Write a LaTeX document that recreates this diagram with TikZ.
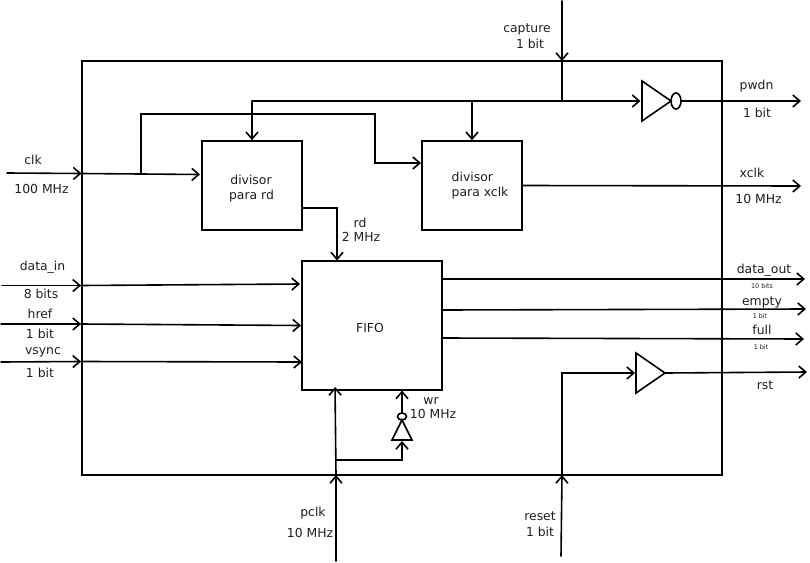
\documentclass[tikz,border=0pt]{standalone}
\usepackage{fontspec}
\setmainfont{DejaVu Sans}
\usetikzlibrary{arrows.meta,shapes.geometric}
\tikzset{
  wire/.style={line width=1.6pt,line cap=round,line join=miter,black},
  arr/.style={wire,-{Straight Barb[length=7pt,width=12pt,line width=1.6pt]}},
  block/.style={draw,line width=1.6pt,inner sep=0pt,black},
  lab/.style={inner sep=0pt,font=\fontsize{12.4}{14}\selectfont,text=black!88},
  tiny lab/.style={inner sep=0pt,font=\fontsize{6.4}{7}\selectfont,text=black!88},
  bubble/.style={draw,ellipse,line width=1.6pt,inner sep=0pt,black}
}
\begin{document}
\begin{tikzpicture}[x=1pt,y=-1pt]
\useasboundingbox (0,0) rectangle (810,562);
% blocks
\node[block,minimum width=640pt,minimum height=414pt] (main) at (402,268) {};
\node[block,minimum width=100pt,minimum height=89pt] (divrd) at (252,185.5) {};
\node[block,minimum width=100pt,minimum height=89pt] (divx) at (472,185.5) {};
\node[block,minimum width=140pt,minimum height=129pt] (fifo) at (372,325.5) {};
% buffers
\coordinate (invA) at (642,81);
\coordinate (invB) at (642,121);
\coordinate (invC) at (671,101);
\draw[wire] (invA) -- (invC) -- (invB) -- cycle;
\node[bubble,minimum width=10pt,minimum height=16pt] (invO) at (676,101) {};
\coordinate (bufA) at (636,353);
\coordinate (bufB) at (636,393);
\coordinate (bufC) at (665,373);
\draw[wire] (bufA) -- (bufC) -- (bufB) -- cycle;
\coordinate (wrA) at (392,440);
\coordinate (wrB) at (412,440);
\coordinate (wrC) at (402,420);
\draw[wire] (wrA) -- (wrC) -- (wrB) -- cycle;
\node[bubble,minimum width=9pt,minimum height=7pt] (wrO) at (402,416.5) {};
% free ends and junctions
\coordinate (capT) at (562,1);
\coordinate (capM) at (562,61);
\coordinate (capJ) at (562,101);
\coordinate (busL) at (252,101);
\coordinate (busX) at (472,101);
\coordinate (busR) at (640.5,101);
\coordinate (pwdnE) at (801,101);
\coordinate (clkS) at (7,173);
\coordinate (clkM) at (81.5,173.5);
\coordinate (clkE) at (200,174.5);
\coordinate (clkJ) at (141,174);
\coordinate (clkU) at (141,114);
\coordinate (clkR) at (375,114);
\coordinate (clkD) at (375,163);
\coordinate (xclkIn) at (421,163);
\coordinate (xclkE) at (801,186);
\coordinate (rdS) at (302,208);
\coordinate (rdC) at (337,208);
\coordinate (rdE) at (337,260.5);
\coordinate (dS) at (2,285.5);
\coordinate (dM) at (81,285.5);
\coordinate (dE) at (300,284);
\coordinate (hS) at (1,324);
\coordinate (hM) at (81,324);
\coordinate (hE) at (301,325.5);
\coordinate (vS) at (1,362);
\coordinate (vM) at (81,361.5);
\coordinate (vE) at (302,362);
\coordinate (o1S) at (443,279);
\coordinate (o1E) at (805,279);
\coordinate (o2S) at (442,310);
\coordinate (o2E) at (806,309);
\coordinate (o3S) at (443,338);
\coordinate (o3E) at (804,339);
\coordinate (rstE) at (807,372);
\coordinate (resS) at (561,556);
\coordinate (resM) at (562,475);
\coordinate (resC) at (562,373);
\coordinate (resE) at (635,373);
\coordinate (pS) at (336,561);
\coordinate (pM) at (336,475);
\coordinate (pE) at (335,387);
\coordinate (pJ) at (336,460);
\coordinate (pC) at (402,460);
\coordinate (wrIn) at (402,441);
\coordinate (wrOut) at (402,390.5);
% connectors
\draw[arr] (capT) -- (capM);
\draw[wire] (capM) -- (capJ);
\draw[arr] (busL) -- (busR);
\draw[arr] (busL) -- (divrd.north);
\draw[arr] (busX) -- (divx.north);
\draw[arr] (invO.east) -- (pwdnE);
\draw[arr] (clkS) -- (clkM);
\draw[arr] (clkM) -- (clkE);
\draw[arr] (clkJ) -- (clkU) -- (clkR) -- (clkD) -- (xclkIn);
\draw[arr] (divx.east) -- (xclkE);
\draw[arr] (rdS) -- (rdC) -- (rdE);
\draw[arr] (dS) -- (dM);
\draw[arr] (dM) -- (dE);
\draw[arr] (hS) -- (hM);
\draw[arr] (hM) -- (hE);
\draw[arr] (vS) -- (vM);
\draw[arr] (vM) -- (vE);
\draw[arr] (o1S) -- (o1E);
\draw[arr] (o2S) -- (o2E);
\draw[arr] (o3S) -- (o3E);
\draw[arr] (bufC) -- (rstE);
\draw[arr] (resS) -- (resM);
\draw[arr] (resM) -- (resC) -- (resE);
\draw[arr] (pS) -- (pM);
\draw[arr] (pM) -- (pE);
\draw[arr] (pJ) -- (pC) -- (wrIn);
\draw[arr] (wrO.north) -- (wrOut);
% labels
\node[lab] (l1) at (527,29) {capture};
\node[lab] (l2) at (530,44) {1 bit};
\node[lab] (l3) at (756.5,86) {pwdn};
\node[lab] (l4) at (757,113) {1 bit};
\node[lab] (l5) at (33,160) {clk};
\node[lab] (l6) at (41.5,189) {100 MHz};
\node[lab] (l7) at (251,180) {divisor};
\node[lab] (l8) at (251.5,196) {para rd};
\node[lab,anchor=west] (l9) at (451.5,177) {divisor};
\node[lab,anchor=west] (l10) at (451.5,193) {para xclk};
\node[lab] (l11) at (752,173) {xclk};
\node[lab] (l12) at (758.5,199) {10 MHz};
\node[lab] (l13) at (360,223) {rd};
\node[lab] (l14) at (361,237) {2 MHz};
\node[lab] (l15) at (42.5,267) {data\_in};
\node[lab] (l16) at (41,294) {8 bits};
\node[lab] (l17) at (40,314) {href};
\node[lab] (l18) at (40,334) {1 bit};
\node[lab] (l19) at (43,352) {vsync};
\node[lab] (l20) at (40,373) {1 bit};
\node[lab] (l21) at (370,328) {FIFO};
\node[lab] (l22) at (764,270) {data\_out};
\node[tiny lab] (l23) at (762,286) {10 bits};
\node[lab] (l24) at (762,302) {empty};
\node[tiny lab] (l25) at (760,316) {1 bit};
\node[lab] (l26) at (762,330) {full};
\node[tiny lab] (l27) at (761,347) {1 bit};
\node[lab] (l28) at (765,385) {rst};
\node[lab] (l29) at (431,401) {wr};
\node[lab] (l30) at (433,414) {10 MHz};
\node[lab] (l31) at (313,513) {pclk};
\node[lab] (l32) at (310,533) {10 MHz};
\node[lab] (l33) at (540,516) {reset};
\node[lab] (l34) at (540,532) {1 bit};
\end{tikzpicture}
\end{document}
